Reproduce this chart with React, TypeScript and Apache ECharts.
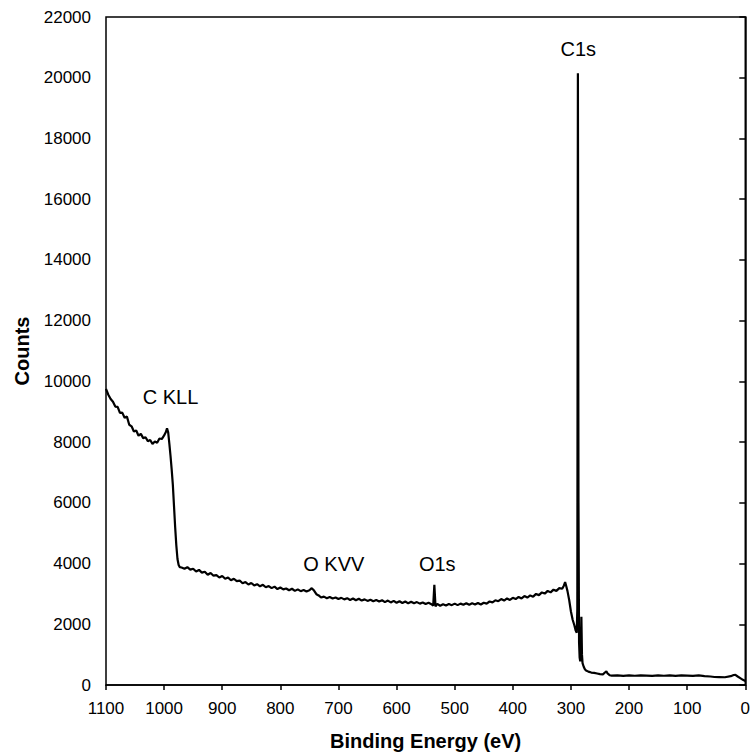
import React, { useEffect, useRef } from "react";
import * as echarts from "echarts";

const energies: number[] = [
  1100, 1096, 1092, 1088, 1084, 1080, 1076, 1072, 1068, 1064, 1060, 1056, 1052, 1048, 1044, 1040, 1036, 1032, 1028, 1024, 1020, 1016, 1012, 1008, 1004, 1000,
  997, 995, 993, 991, 989, 987, 985, 983, 981, 979, 977, 975, 973,
  970, 965, 960, 955, 950, 945, 940, 935, 930, 925, 920, 915, 910, 905, 900, 895, 890, 885, 880, 875, 870, 865, 860, 855, 850, 845, 840, 835, 830, 825, 820, 815, 810, 805, 800, 795, 790, 785, 780, 775, 770, 765, 760, 755, 750,
  746, 742, 738, 734, 730, 725, 720, 715, 710, 705, 700, 695, 690, 685, 680, 675, 670, 665, 660, 655, 650, 645, 640, 635, 630, 625, 620, 615, 610, 605, 600, 595, 590, 585, 580, 575, 570, 565, 560, 555, 550, 545, 540,
  537, 535, 533, 530, 525, 520, 515, 510, 505, 500, 495, 490, 485, 480, 475, 470, 465, 460, 455, 450, 445, 440, 435, 430, 425, 420, 415, 410, 405, 400, 395, 390, 385, 380, 375, 370, 365, 360, 355, 350, 345, 340, 335, 330, 325, 320, 315,
  312, 310, 308, 306, 303, 300, 297, 294, 292, 290, 289, 288, 287, 286, 285, 284, 283, 282, 281, 280, 278, 276, 274, 270, 265, 260, 255, 250, 245, 241, 239, 237, 233,
  230, 220, 210, 200, 190, 180, 170, 160, 150, 140, 130, 120, 110, 100, 90, 80, 70, 60, 53, 45, 35, 25, 20, 17, 13, 8, 4, 0,
];

const counts: number[] = [
  9750, 9560, 9420, 9330, 9170, 9160, 8960, 8970, 8800, 8840, 8570, 8520, 8350, 8380, 8210, 8270, 8130, 8160, 8030, 8070, 7940, 8020, 7980, 8120, 8100, 8220,
  8330, 8450, 8320, 7950, 7550, 7100, 6600, 5900, 5200, 4600, 4150, 3950, 3880,
  3870, 3830, 3880, 3800, 3830, 3740, 3790, 3700, 3730, 3630, 3690, 3600, 3620, 3540, 3590, 3500, 3540, 3450, 3500, 3420, 3440, 3350, 3390, 3310, 3360, 3280, 3320, 3250, 3300, 3220, 3260, 3190, 3240, 3160, 3210, 3150, 3180, 3120, 3170, 3100, 3150, 3090, 3130, 3080, 3120,
  3190, 3110, 2990, 2950, 2880, 2910, 2860, 2900, 2850, 2880, 2830, 2870, 2820, 2860, 2800, 2850, 2790, 2840, 2780, 2820, 2770, 2810, 2760, 2800, 2750, 2790, 2730, 2780, 2720, 2770, 2710, 2760, 2700, 2750, 2690, 2740, 2690, 2730, 2680, 2720, 2670, 2710, 2660,
  2610, 3300, 2590, 2670, 2610, 2660, 2620, 2670, 2630, 2680, 2630, 2680, 2640, 2690, 2640, 2690, 2650, 2700, 2650, 2710, 2680, 2750, 2720, 2790, 2760, 2830, 2780, 2850, 2800, 2870, 2830, 2900, 2850, 2930, 2880, 2950, 2910, 3000, 2960, 3050, 3010, 3100, 3050, 3140, 3100, 3190, 3170,
  3280, 3390, 3250, 3100, 2800, 2420, 2150, 1960, 1800, 1720, 2500, 20150, 6000, 1400, 900, 780, 1100, 2250, 1000, 720, 600, 520, 480, 440, 410, 400, 380, 360, 350, 420, 450, 380, 320,
  310, 320, 300, 315, 305, 320, 310, 300, 315, 305, 320, 300, 315, 310, 300, 315, 295, 280, 264, 260, 255, 290, 330, 335, 280, 220, 170, 130,
];

const peakNames: string[] = ["C1s", "C KLL", "O KVV", "O1s"];
const peakEnergies: number[] = [287.4, 989, 708, 530];
const peakLabelCounts: number[] = [20950, 9500, 3990, 3990];

const xTicks = { min: 0, max: 1100, interval: 100 };
const yTicks = { min: 0, max: 22000, interval: 2000 };

const FONT = "'Liberation Sans', Arial, sans-serif";

export default function App() {
  const ref = useRef<HTMLDivElement>(null);
  useEffect(() => {
    if (!ref.current) return;
    const chart = echarts.init(ref.current, undefined, { renderer: "svg" });
    const spectrum = energies.map((e, i) => [e, counts[i]]);
    const labels = peakNames.map((n, i) => ({ value: [peakEnergies[i], peakLabelCounts[i]], name: n }));
    chart.setOption({
      animation: false,
      backgroundColor: "#fff",
      textStyle: { fontFamily: FONT, color: "#000" },
      grid: { left: 106, right: 2, top: 17, bottom: 69, show: true, borderColor: "#000", borderWidth: 1.5, backgroundColor: "transparent" },
      xAxis: {
        type: "value",
        inverse: true,
        min: xTicks.min,
        max: xTicks.max,
        interval: xTicks.interval,
        name: "Binding Energy (eV)",
        nameLocation: "middle",
        nameGap: 46,
        nameTextStyle: { fontFamily: FONT, fontSize: 20, fontWeight: "bold", color: "#000" },
        axisLine: { show: true, lineStyle: { color: "#000", width: 1.5 } },
        axisTick: { show: true, inside: false, length: 5, lineStyle: { color: "#000", width: 1.5 } },
        axisLabel: { fontFamily: FONT, fontSize: 17, color: "#000", margin: 15, formatter: (v: number) => String(v) },
        splitLine: { show: false },
      },
      yAxis: {
        type: "value",
        min: yTicks.min,
        max: yTicks.max,
        interval: yTicks.interval,
        name: "Counts",
        nameLocation: "middle",
        nameGap: 74,
        nameTextStyle: { fontFamily: FONT, fontSize: 20, fontWeight: "bold", color: "#000" },
        axisLine: { show: true, lineStyle: { color: "#000", width: 1.5 } },
        axisTick: { show: true, inside: false, length: 6, lineStyle: { color: "#000", width: 1.5 } },
        axisLabel: { fontFamily: FONT, fontSize: 17, color: "#000", margin: 15, formatter: (v: number) => String(v) },
        splitLine: { show: false },
      },
      series: [
        {
          type: "line",
          data: spectrum,
          showSymbol: false,
          symbol: "none",
          lineStyle: { color: "#000", width: 2.2 },
          silent: true,
          clip: true,
        },
        {
          type: "scatter",
          data: labels,
          symbolSize: 1,
          itemStyle: { color: "rgba(0,0,0,0)" },
          silent: true,
          label: {
            show: true,
            position: "inside",
            formatter: (p: any) => p.name,
            fontFamily: FONT,
            fontSize: 20,
            color: "#000",
            opacity: 1,
            textBorderWidth: 0,
          },
        },
      ],
    });
    return () => chart.dispose();
  }, []);
  return <div ref={ref} style={{ position: "fixed", left: 0, top: 0, width: 753, height: 756 }} />;
}
